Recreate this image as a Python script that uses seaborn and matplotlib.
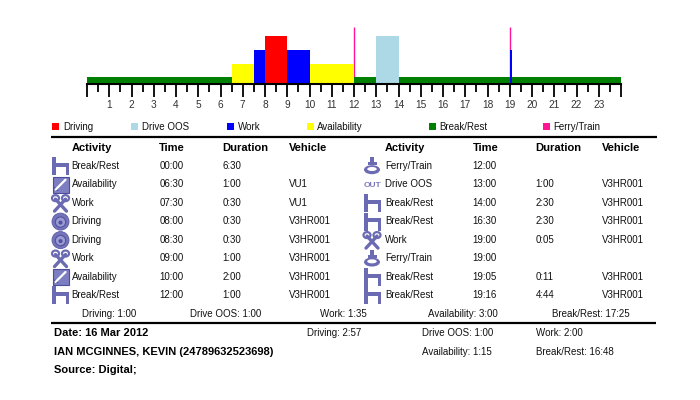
import numpy as np
import pandas as pd
import matplotlib
matplotlib.use("Agg")
import matplotlib.pyplot as plt
from matplotlib.patches import Rectangle, Circle, Ellipse, Polygon
import seaborn as sns

# ---------------- data ----------------
activities = ["Break/Rest", "Availability", "Work", "Driving", "Driving", "Work", "Availability", "Break/Rest",
              "Ferry/Train", "Drive OOS", "Break/Rest", "Break/Rest", "Work", "Ferry/Train", "Break/Rest", "Break/Rest"]
start_times = ["00:00", "06:30", "07:30", "08:00", "08:30", "09:00", "10:00", "12:00",
               "12:00", "13:00", "14:00", "16:30", "19:00", "19:00", "19:05", "19:16"]
durations = ["6:30", "1:00", "0:30", "0:30", "0:30", "1:00", "2:00", "1:00",
             "", "1:00", "2:30", "2:30", "0:05", "", "0:11", "4:44"]
vehicles = ["", "VU1", "VU1", "V3HR001", "V3HR001", "V3HR001", "V3HR001", "V3HR001",
            "", "V3HR001", "V3HR001", "V3HR001", "V3HR001", "", "V3HR001", "V3HR001"]
legend_labels = ["Driving", "Drive OOS", "Work", "Availability", "Break/Rest", "Ferry/Train"]
hour_labels = [str(h) for h in range(1, 24)]
table_headers = ["Activity", "Time", "Duration", "Vehicle"]
day_totals = ["Driving: 1:00", "Drive OOS: 1:00", "Work: 1:35", "Availability: 3:00", "Break/Rest: 17:25"]
report_date = "Date: 16 Mar 2012"
driver_name = "IAN MCGINNES, KEVIN (24789632523698)"
source_text = "Source: Digital;"
other_totals = ["Driving: 2:57", "Drive OOS: 1:00", "Work: 2:00", "Availability: 1:15", "Break/Rest: 16:48"]

# ---------------- styles ----------------
sns.set_theme(style="white")
plt.rcParams["font.family"] = ["Liberation Sans", "DejaVu Sans"]

colors = {"Driving": "#ff0000", "Drive OOS": "#add8e6", "Work": "#0000ff",
          "Availability": "#ffff00", "Break/Rest": "#008000", "Ferry/Train": "#ff1493"}
levels = {"Break/Rest": 6.7, "Availability": 20.0, "Work": 33.7, "Driving": 47.7,
          "Drive OOS": 47.7, "Ferry/Train": 57.0}
ICON = "#6b6bb3"
ICON_L = "#9a9ad2"


def to_hours(s):
    if not s:
        return np.nan
    h, m = s.split(":")
    return int(h) + int(m) / 60.0


df = pd.DataFrame({"activity": activities, "start": [to_hours(t) for t in start_times],
                   "dur": [to_hours(d) for d in durations]})

fig = plt.figure(figsize=(7, 4), dpi=100)

# overlay in pixel coordinates for the table / texts
ov = fig.add_axes([0, 0, 1, 1])
ov.set_xlim(0, 700)
ov.set_ylim(400, 0)
ov.axis("off")

# ---------------- timeline ----------------
ax = fig.add_axes([87 / 700, 1 - 84 / 400, 534 / 700, 64 / 400])
ax.set_facecolor("none")
ferry = df[df["activity"] == "Ferry/Train"]
ax.vlines(ferry["start"], 0, [levels[a] for a in ferry["activity"]],
          color=colors["Ferry/Train"], lw=1.0, zorder=1)
seg = df[df["dur"].notna()]
ax.bar(seg["start"], [levels[a] for a in seg["activity"]], width=seg["dur"], align="edge",
       color=[colors[a] for a in seg["activity"]], linewidth=0, zorder=2)
ax.set_xlim(0, 24)
ax.set_ylim(0, 64)
ax.set_yticks([])
ax.set_xticks(range(25))
ax.set_xticklabels([""] + hour_labels + [""])
ax.set_xticks(np.arange(0.5, 24, 1), minor=True)
ax.tick_params(axis="x", which="major", length=9, width=1.3, color="black", direction="out",
               pad=2.5, labelsize=7.3, labelcolor="#333333", bottom=True)
ax.tick_params(axis="x", which="minor", length=6, width=1.3, color="black", direction="out", bottom=True)
sns.despine(ax=ax, left=True, top=True, right=True)
ax.spines["bottom"].set_linewidth(1.5)
ax.spines["bottom"].set_color("black")

# ---------------- legend ----------------
leg_sq_x = [52, 131, 227, 307, 428.5, 543]
leg_tx_x = [63, 141.7, 238.3, 317.3, 439.3, 553.3]
for lab, sx, tx in zip(legend_labels, leg_sq_x, leg_tx_x):
    ov.add_patch(Rectangle((sx, 123.2), 7, 7, color=colors[lab], lw=0))
    ov.text(tx, 127, lab, fontsize=7, va="center", ha="left", color="#111111")

ov.plot([51, 657], [136.7, 136.7], color="black", lw=1.6, solid_capstyle="butt")
ov.plot([51, 656], [323.3, 323.3], color="black", lw=1.6, solid_capstyle="butt")


# ---------------- icons ----------------
def icon_bed(cx, cy):
    ov.add_patch(Rectangle((cx - 8.5, cy - 9), 4, 18, color=ICON, lw=0))
    ov.add_patch(Rectangle((cx - 8.5, cy - 3.5), 17, 4, color=ICON, lw=0))
    ov.add_patch(Rectangle((cx + 5.5, cy - 3.5), 3, 12.5, color=ICON, lw=0))


def icon_avail(cx, cy):
    ov.add_patch(Rectangle((cx - 8, cy - 8), 16, 16, facecolor="#7d7dc2", edgecolor="#4d4d9c", lw=0.8))
    ov.plot([cx - 5, cx + 5], [cy + 5, cy - 5], color="white", lw=1.6)
    ov.add_patch(Polygon([[cx - 6, cy + 6], [cx - 6, cy + 2], [cx - 2, cy + 6]], closed=True,
                         color="#3d3d8c", lw=0))


def icon_work(cx, cy):
    ov.plot([cx - 5, cx + 6], [cy - 4, cy + 8], color=ICON, lw=2.4, solid_capstyle="round")
    ov.plot([cx + 5, cx - 6], [cy - 4, cy + 8], color=ICON, lw=2.4, solid_capstyle="round")
    ov.add_patch(Ellipse((cx - 5, cy - 5), 7, 6, facecolor="white", edgecolor=ICON, lw=1.6))
    ov.add_patch(Ellipse((cx + 5, cy - 5), 7, 6, facecolor="white", edgecolor=ICON, lw=1.6))


def icon_drive(cx, cy):
    ov.add_patch(Circle((cx, cy), 8.5, facecolor="#7474bb", edgecolor="#5a5aa6", lw=0.6))
    ov.add_patch(Circle((cx, cy + 0.5), 5.2, facecolor=ICON_L, edgecolor="#50509e", lw=0.8))
    ov.add_patch(Circle((cx, cy + 1), 2.0, facecolor="#50509e", lw=0))


def icon_ferry(cx, cy):
    ov.add_patch(Rectangle((cx - 2, cy - 9), 4, 6, color=ICON, lw=0))
    ov.add_patch(Rectangle((cx - 4.5, cy - 4), 9, 3, color=ICON, lw=0))
    ov.add_patch(Ellipse((cx, cy + 3.5), 16, 9, color=ICON, lw=0))
    ov.add_patch(Ellipse((cx, cy + 2.8), 9.5, 4, color="white", lw=0))


def icon_oos(cx, cy):
    ov.text(cx, cy + 0.5, "OUT", fontsize=6, fontweight="bold", color="#7a7abb",
            ha="center", va="center")


icon_funcs = {"Break/Rest": icon_bed, "Availability": icon_avail, "Work": icon_work,
              "Driving": icon_drive, "Ferry/Train": icon_ferry, "Drive OOS": icon_oos}

# ---------------- table ----------------
header_y = 148.3
row_y0 = 165.7
row_step = 18.47
halves = [
    {"icon_x": 60.5, "cols": [71.7, 159.3, 222.7, 289.3], "rows": range(0, 8)},
    {"icon_x": 372.0, "cols": [385.0, 472.7, 535.7, 602.3], "rows": range(8, 16)},
]
for half in halves:
    for hdr, x in zip(table_headers, half["cols"]):
        ov.text(x, header_y, hdr, fontsize=8, fontweight="bold", ha="left", va="center", color="black")
    for k, i in enumerate(half["rows"]):
        y = row_y0 + k * row_step
        icon_funcs[activities[i]](half["icon_x"], y + 0.5)
        vals = [activities[i], start_times[i], durations[i], vehicles[i]]
        for v, x in zip(vals, half["cols"]):
            ov.text(x, y, v, fontsize=7, ha="left", va="center", color="#111111")

# ---------------- totals ----------------
tot_x = [108.7, 226.0, 343.5, 463.0, 590.5]
for t, x in zip(day_totals, tot_x):
    ov.text(x, 314.3, t, fontsize=7, ha="center", va="center", color="#111111")

ov.text(54, 333.3, report_date, fontsize=8, fontweight="bold", ha="left", va="center", color="black")
ov.text(54, 351.7, driver_name, fontsize=8, fontweight="bold", ha="left", va="center", color="black")
ov.text(54, 370.0, source_text, fontsize=8, fontweight="bold", ha="left", va="center", color="black")

other_pos = [(306.7, 333.3), (422.3, 333.3), (536.0, 333.3), (422.3, 351.7), (536.0, 351.7)]
for t, (x, y) in zip(other_totals, other_pos):
    ov.text(x, y, t, fontsize=7, ha="left", va="center", color="#111111")

fig.savefig("out.png", dpi=100)
